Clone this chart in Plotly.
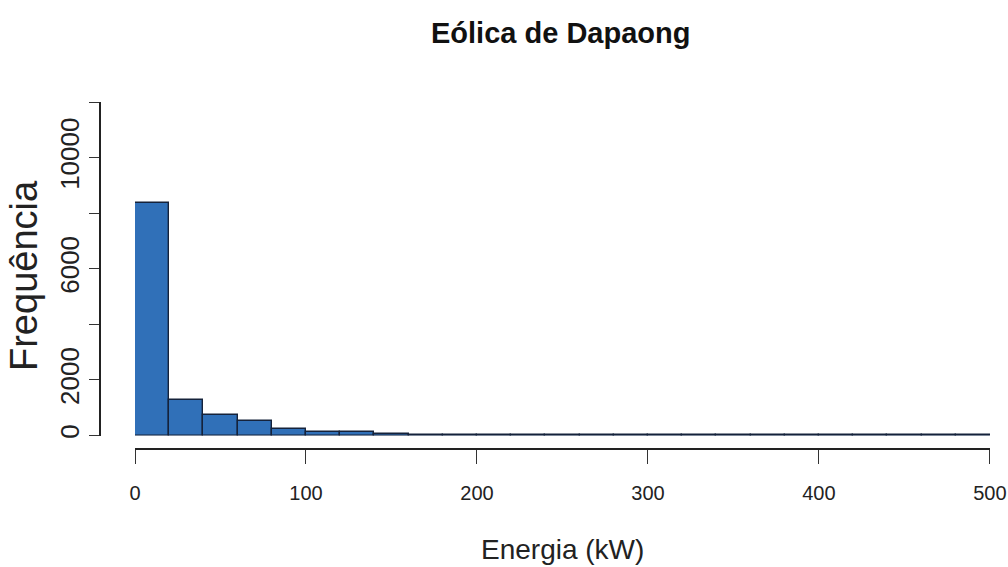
import plotly.graph_objects as go

# Histogram data (bins of 20 kW)
bin_left = list(range(0, 500, 20))
counts = [8370, 1280, 740, 535, 235, 125, 120, 60, 15, 8, 5, 4, 3, 3, 2, 2, 2, 1, 1, 1, 1, 1, 1, 1, 1]
bin_width = 20

x_ticks = [0, 100, 200, 300, 400, 500]
y_ticks = [0, 2000, 4000, 6000, 8000, 10000, 12000]
y_ticktext = ["0", "2000", "", "6000", "", "10000", ""]

title = "Eólica de Dapaong"
x_title = "Energia (kW)"
y_title = "Frequência"

centers = [b + bin_width / 2 for b in bin_left]

fig = go.Figure()
fig.add_trace(go.Bar(
    x=centers, y=counts, width=[bin_width] * len(counts),
    marker=dict(color="#3070B8", line=dict(color="#15223a", width=1.4)),
    showlegend=False, hoverinfo="skip",
))

L, R, T, B = 100, 18, 102, 118
W, H = 1008, 567
pw = W - L - R
ph = H - T - B

FONT = "Liberation Sans, Arial"

fig.update_layout(
    width=W, height=H,
    margin=dict(l=L, r=R, t=T, b=B, pad=0, autoexpand=False),
    paper_bgcolor="white", plot_bgcolor="white",
    bargap=0,
    xaxis=dict(
        domain=[(135 - L) / pw, 1], range=[0, 500.05], anchor="free", position=0,
        automargin=False,
        showline=True, linecolor="#222", linewidth=1.5,
        ticks="outside", ticklen=14, tickwidth=1.3, tickcolor="#333",
        tickvals=x_ticks, ticktext=[str(v) for v in x_ticks],
        tickfont=dict(family=FONT, size=20, color="#222"),
        ticklabelstandoff=12,
        showgrid=False, zeroline=False,
    ),
    yaxis=dict(
        domain=[(449 - 435.5) / ph, 1], range=[0, 12000], anchor="free", position=0,
        automargin=False,
        showline=True, linecolor="#222", linewidth=1.5,
        ticks="outside", ticklen=10, tickwidth=1.3, tickcolor="#333",
        tickvals=y_ticks, ticktext=y_ticktext, tickangle=-90,
        tickfont=dict(family=FONT, size=26, color="#222"),
        ticklabelstandoff=0,
        showgrid=False, zeroline=False,
    ),
    annotations=[
        dict(text=title, xref="paper", yref="paper",
             x=(560 - L) / pw, y=(449 - 33) / ph, xanchor="center", yanchor="middle",
             showarrow=False,
             font=dict(family=FONT, size=29, color="#111", weight="bold")),
        dict(text=x_title, xref="paper", yref="paper",
             x=(562 - L) / pw, y=(449 - 549) / ph, xanchor="center", yanchor="middle",
             showarrow=False,
             font=dict(family=FONT, size=28, color="#222")),
        dict(text=y_title, xref="paper", yref="paper",
             x=(24 - L) / pw, y=(449 - 276) / ph, xanchor="center", yanchor="middle",
             showarrow=False, textangle=-90,
             font=dict(family=FONT, size=38, color="#222")),
    ],
)

fig.write_html("out.html")
